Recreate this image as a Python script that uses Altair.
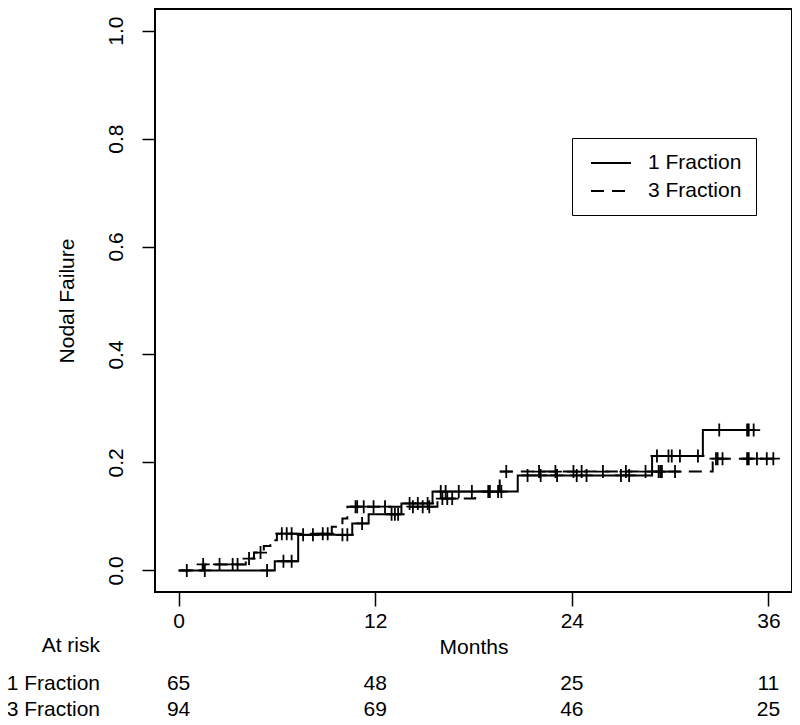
import altair as alt
import pandas as pd

groups = ["1 Fraction", "3 Fraction"]

# step curves (months, cumulative nodal failure)
one_times = [0, 5.87, 7.3, 10.6, 11.6, 13.6, 15.5, 20.7, 28.9, 32.0]
one_values = [0, 0.017, 0.066, 0.087, 0.104, 0.124, 0.146, 0.176, 0.212, 0.260]
one_end = 35.2
one_censor = [0.5, 1.6, 5.4, 6.4, 6.9, 7.6, 8.2, 10.0, 10.3, 11.2, 13.0, 13.2, 13.4,
              14.1, 14.6, 15.2, 16.0, 16.3, 17.1, 17.9, 18.9, 19.7, 21.3, 22.1, 23.1,
              24.3, 24.9, 27.0, 27.5, 29.2, 29.9, 30.1, 30.6, 31.7, 33.0, 34.7, 34.8, 35.1]

three_times = [0, 1.47, 4.1, 4.6, 5.2, 5.6, 6.0, 9.35, 10.0, 10.3, 15.8, 18.1, 19.6, 32.6]
three_values = [0, 0.011, 0.022, 0.033, 0.045, 0.056, 0.068, 0.081, 0.096, 0.118, 0.133,
                0.146, 0.183, 0.207]
three_end = 36.3
three_censor = [1.5, 2.5, 3.3, 3.6, 4.3, 5.0, 6.3, 6.6, 6.9, 8.8, 9.1, 10.8, 10.9, 11.3,
                11.9, 12.6, 14.3, 14.9, 15.3, 16.1, 16.4, 16.7, 19.0, 19.5, 20.0, 22.0,
                23.0, 24.1, 24.6, 25.9, 27.3, 28.5, 29.3, 29.4, 29.5, 30.3, 32.8, 32.9,
                33.2, 34.7, 34.8, 35.3, 35.9, 36.3]

risk_times = [0, 12, 24, 36]
risk_one = [65, 48, 25, 11]
risk_three = [94, 69, 46, 25]

x_ticks = [0, 12, 24, 36]
y_ticks = [0.0, 0.2, 0.4, 0.6, 0.8, 1.0]

FONT = "Liberation Sans"
FS = 21


def step_rows(group, times, values, end):
    rows = [{"group": group, "t": t, "v": v, "o": i}
            for i, (t, v) in enumerate(zip(times, values))]
    rows.append({"group": group, "t": end, "v": values[-1], "o": len(times)})
    return rows


def value_at(times, values, t):
    v = values[0]
    for tt, vv in zip(times, values):
        if tt <= t:
            v = vv
    return v


curve_df = pd.DataFrame(step_rows(groups[0], one_times, one_values, one_end)
                        + step_rows(groups[1], three_times, three_values, three_end))

cens_rows = [{"group": groups[0], "t": t, "v": value_at(one_times, one_values, t)} for t in one_censor]
cens_rows += [{"group": groups[1], "t": t, "v": value_at(three_times, three_values, t)} for t in three_censor]
cens_df = pd.DataFrame(cens_rows)

risk_df1 = pd.DataFrame({"t": risk_times, "n": risk_one})
risk_df3 = pd.DataFrame({"t": risk_times, "n": risk_three})

xscale = alt.Scale(domain=[-1.44, 37.44], nice=False, zero=False)
yscale = alt.Scale(domain=[-0.04, 1.04], nice=False, zero=False)

xaxis = alt.Axis(values=x_ticks, title="Months", grid=False, domain=False,
                 tickSize=14, tickWidth=1.5, tickColor="black",
                 labelFont=FONT, labelFontSize=FS, labelColor="black", labelPadding=4,
                 labelFlush=False, labelOverlap=False,
                 titleFont=FONT, titleFontSize=FS, titleFontWeight="normal",
                 titleColor="black", titlePadding=5)
yaxis = alt.Axis(values=y_ticks, format=".1f", title="Nodal Failure", grid=False,
                 domain=False, tickSize=13, tickWidth=1.5, tickColor="black",
                 labelFont=FONT, labelFontSize=FS, labelColor="black", labelPadding=16,
                 labelAngle=270, labelAlign="center", labelBaseline="bottom",
                 labelFlush=False, labelOverlap=False,
                 titleFont=FONT, titleFontSize=FS, titleFontWeight="normal",
                 titleColor="black", titlePadding=28)

lines = alt.Chart(curve_df).mark_line(
    interpolate="step-after", strokeWidth=2, color="black", clip=True
).encode(
    x=alt.X("t:Q", scale=xscale, axis=xaxis),
    y=alt.Y("v:Q", scale=yscale, axis=yaxis),
    strokeDash=alt.StrokeDash(
        "group:N",
        scale=alt.Scale(domain=groups, range=[[1, 0], [13, 8]]),
        legend=alt.Legend(
            title=None, orient="none", legendX=417, legendY=129,
            strokeColor="black", padding=14, fillColor="white",
            symbolType="M-2,0H2", symbolSize=400, symbolStrokeWidth=2,
            symbolStrokeColor="black", symbolOffset=14, labelOffset=26,
            labelFont=FONT, labelFontSize=FS, labelColor="black", rowPadding=7,
        ),
    ),
    order="o:Q",
)

points = alt.Chart(cens_df).mark_point(
    shape="M-1,0H1M0,-1V1", size=169, filled=False, strokeWidth=1.8,
    color="black", opacity=1, clip=True
).encode(
    x=alt.X("t:Q", scale=xscale),
    y=alt.Y("v:Q", scale=yscale),
)

num1 = alt.Chart(risk_df1).mark_text(font=FONT, fontSize=FS, color="black",
                                      align="center", baseline="middle").encode(
    x=alt.X("t:Q", scale=xscale), y=alt.value(675), text="n:Q")
num3 = alt.Chart(risk_df3).mark_text(font=FONT, fontSize=FS, color="black",
                                      align="center", baseline="middle").encode(
    x=alt.X("t:Q", scale=xscale), y=alt.value(701), text="n:Q")

label_df = pd.DataFrame({"label": ["At risk"] + groups})
at_risk = alt.Chart(label_df.iloc[[0]]).mark_text(
    font=FONT, fontSize=FS, color="black", align="right", baseline="middle"
).encode(x=alt.value(-55), y=alt.value(637), text="label:N")
lab1 = alt.Chart(label_df.iloc[[1]]).mark_text(
    font=FONT, fontSize=FS, color="black", align="right", baseline="middle"
).encode(x=alt.value(-55), y=alt.value(675), text="label:N")
lab3 = alt.Chart(label_df.iloc[[2]]).mark_text(
    font=FONT, fontSize=FS, color="black", align="right", baseline="middle"
).encode(x=alt.value(-55), y=alt.value(701), text="label:N")

chart = alt.layer(lines, points, num1, num3, at_risk, lab1, lab3).properties(
    width=637, height=583,
    padding={"left": 147, "top": 1, "right": 0, "bottom": 128},
    autosize=alt.AutoSizeParams(type="none"),
    background="white",
).configure(font=FONT).configure_view(stroke="black", strokeWidth=2)

chart.save("out.html", embed_options={"renderer": "svg", "actions": False})
